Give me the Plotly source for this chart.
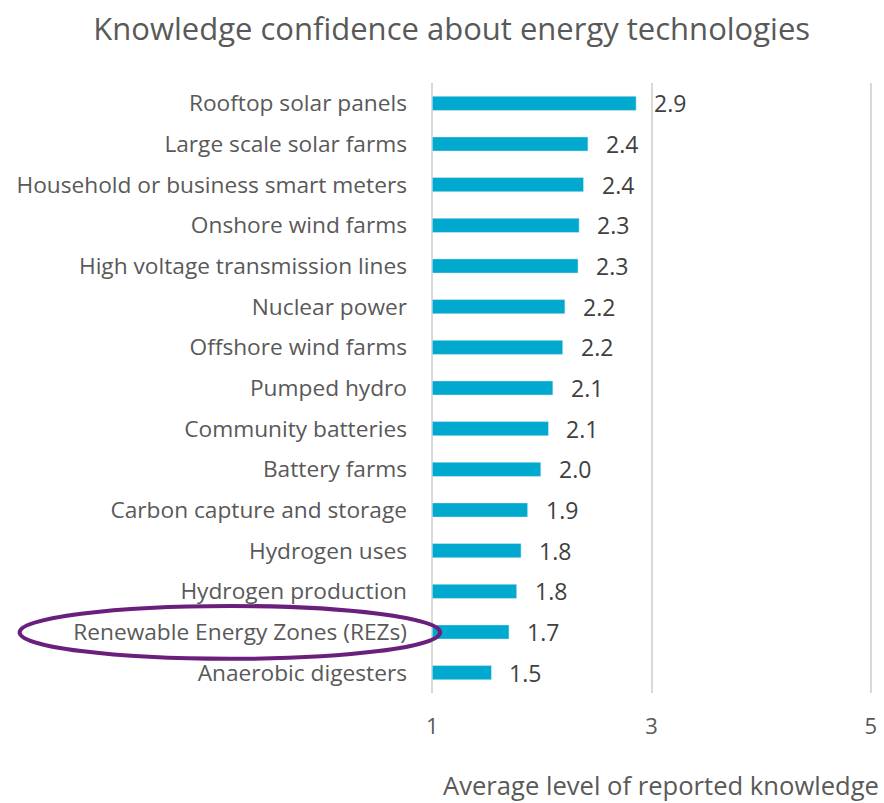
import plotly.graph_objects as go

# categories top to bottom
technologies = [
    'Rooftop solar panels', 'Large scale solar farms', 'Household or business smart meters',
    'Onshore wind farms', 'High voltage transmission lines', 'Nuclear power',
    'Offshore wind farms', 'Pumped hydro', 'Community batteries', 'Battery farms',
    'Carbon capture and storage', 'Hydrogen uses', 'Hydrogen production',
    'Renewable Energy Zones (REZs)', 'Anaerobic digesters',
]
knowledge = [2.86, 2.42, 2.38, 2.34, 2.33, 2.21, 2.19, 2.10, 2.06, 1.99,
             1.87, 1.81, 1.77, 1.70, 1.54]
tick_vals = [1, 3, 5]
scale_min = 1
highlight = 'Renewable Energy Zones (REZs)'

font = 'Open Sans'
grey = '#595959'

fig = go.Figure()
fig.add_trace(go.Bar(
    y=technologies,
    x=[v - scale_min for v in knowledge],
    base=scale_min,
    orientation='h',
    width=0.35,
    marker_color='#02A9CE',
    textposition='none',
    customdata=knowledge,
    hovertemplate='%{y}: %{customdata:.1f}<extra></extra>',
))

# data labels, pushed a bit away from the bar end like the original
for tech, val in zip(technologies, knowledge):
    fig.add_annotation(
        x=val, y=tech, text='{:.1f}'.format(val),
        xanchor='left', xshift=16, showarrow=False,
        font=dict(family=font, size=23, color='#404040'),
    )

# x axis title sits right of the plot centre in the original
fig.add_annotation(
    text='Average level of reported knowledge',
    xref='paper', yref='paper', x=0.521, y=-0.152,
    xanchor='center', yanchor='middle', showarrow=False,
    font=dict(family=font, size=25.6, color=grey),
)

# purple ellipse around the REZ label
idx = technologies.index(highlight)
fig.add_shape(
    type='circle', xref='paper', yref='y',
    x0=-0.92, x1=0.025, y0=idx - 0.64, y1=idx + 0.66,
    line=dict(color='#6B1F7C', width=4),
    layer='above',
)

fig.update_layout(
    width=884, height=803,
    margin=dict(l=429, r=10, t=83, b=110),
    plot_bgcolor='white', paper_bgcolor='white',
    showlegend=False,
    title=dict(text='Knowledge confidence about energy technologies',
               x=0.511, xanchor='center', y=1 - 18 / 803, yanchor='top',
               font=dict(family=font, size=31, color=grey)),
    xaxis=dict(
        range=[0.97, 5.03], tickvals=tick_vals,
        showgrid=True, gridcolor='#D9D9D9', gridwidth=2,
        zeroline=False, showline=False, automargin=False,
        ticklabelstandoff=18,
        tickfont=dict(family=font, size=22, color=grey),
    ),
    yaxis=dict(
        autorange='reversed', showgrid=False, showline=False,
        ticks='', ticklabelstandoff=21, automargin=False,
        tickfont=dict(family=font, size=22.7, color=grey),
    ),
)

# drop the default 8px body margin so the figure sits at the page corner
fig.write_html('out.html', config={'displayModeBar': False},
               post_script="document.body.style.margin='0';")
